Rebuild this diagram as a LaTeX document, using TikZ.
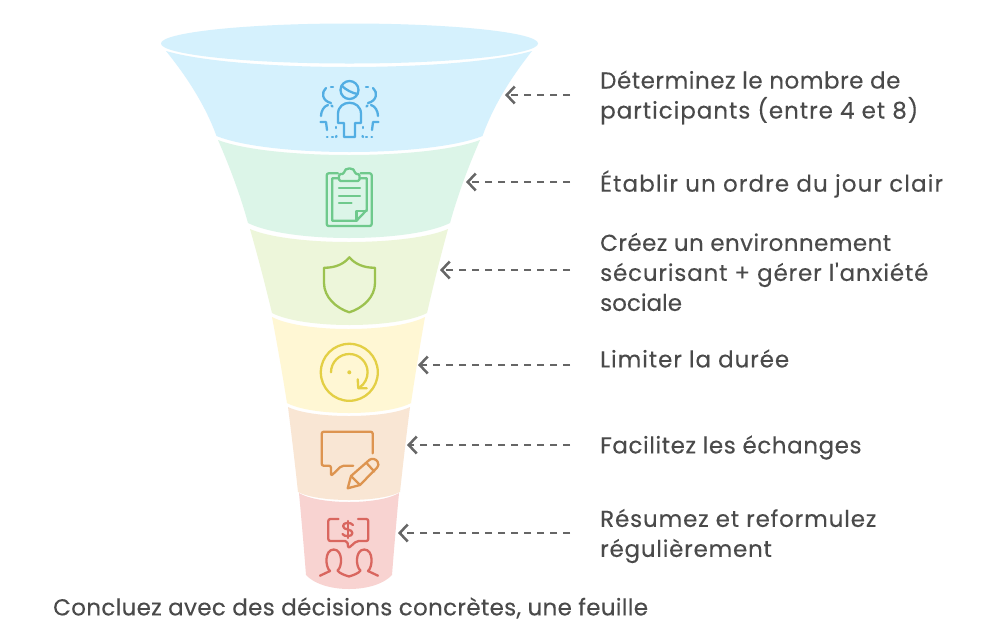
\documentclass[tikz,border=0pt]{standalone}
\usepackage{fontspec}
\setmainfont{Poppins}[Ligatures=TeXOff,FakeBold=0.25]
\usetikzlibrary{arrows.meta}
\definecolor{cblue}{HTML}{D5F1FD}\definecolor{cgreen}{HTML}{DCF5E8}\definecolor{clime}{HTML}{EDF6DA}
\definecolor{cyel}{HTML}{FFF7D4}\definecolor{cpeach}{HTML}{F9E6D4}\definecolor{cpink}{HTML}{F8D3D1}
\definecolor{iblue}{HTML}{52AEE3}\definecolor{igreen}{HTML}{6FC98C}\definecolor{ilime}{HTML}{9CC24F}
\definecolor{iyel}{HTML}{E3CF45}\definecolor{iorange}{HTML}{DD9450}\definecolor{ired}{HTML}{D9665F}
\definecolor{ink}{HTML}{4A4A4A}\definecolor{arrowgray}{HTML}{666666}
\tikzset{
 icon/.style={line width=2.3pt,line cap=round,line join=round},
 pointer/.style={draw=arrowgray,line width=2.3pt,dash pattern=on 7pt off 6pt,-{Straight Barb[length=8pt,width=17pt,line width=2.5pt]}},
 label/.style={anchor=west,align=left,text=ink,inner sep=0pt,font=\fontsize{23}{30}\selectfont},
}
\newcommand{\ls}[2]{{\addfontfeature{LetterSpace=#1}#2}}
\newcommand{\bowa}{0.36}\newcommand{\bowb}{0.70}
\newcommand{\band}[9]{% colour, tl x, tr x, top y, top sag, bl x, br x, bot y, bot sag
 \fill[#1] (#2,#4) .. controls ({#2+0.2*(#3-#2)},{#4+1.333*#5}) and ({#2+0.8*(#3-#2)},{#4+1.333*#5}) .. (#3,#4)
  .. controls ({#3-\bowa*(#3-#7)},{#4+0.33*(#8-#4)}) and ({#3-\bowb*(#3-#7)},{#4+0.67*(#8-#4)}) .. (#7,#8)
  .. controls ({#7-0.2*(#7-#6)},{#8+1.333*#9}) and ({#6+0.2*(#7-#6)},{#8+1.333*#9}) .. (#6,#8)
  .. controls ({#2+\bowb*(#6-#2)},{#4+0.67*(#8-#4)}) and ({#2+\bowa*(#6-#2)},{#4+0.33*(#8-#4)}) .. (#2,#4) -- cycle;}
\begin{document}
\begin{tikzpicture}[x=1pt,y=-1pt]
\useasboundingbox (0,0) rectangle (1000,625);
\fill[white] (0,0) rectangle (1000,625);
% funnel
\renewcommand{\bowa}{0.45}\renewcommand{\bowb}{0.8}
\band{cblue}{166}{532}{51}{16}{216.5}{482.5}{136}{16}
\renewcommand{\bowa}{0.4}\renewcommand{\bowb}{0.75}
\band{cgreen}{218}{480}{140}{15}{248}{450}{223}{15}
\renewcommand{\bowa}{0.36}\renewcommand{\bowb}{0.70}
\band{clime}{250}{448}{229}{13}{272}{427}{313}{12}
\band{cyel}{272}{425}{317}{12}{287}{411}{403}{10}
\band{cpeach}{288}{410}{407}{9}{298}{400}{492}{8}
\band{cpink}{299}{399}{493}{9}{306}{392}{575}{14}
\fill[cblue] (349.5,43.5) ellipse[x radius=188.5pt,y radius=20pt];
% icon 1: people
\begin{scope}[icon,draw=iblue]
 \draw (349.5,90) circle[radius=9pt];
 \draw (341.5,85.5) .. controls (346,90) and (352,93) .. (357.5,94);
 \draw (338,123) -- (338,114) .. controls (338,99) and (361,99) .. (361,114) -- (361,123) -- (355,123) -- (355,137) -- (344,137) -- (344,123) -- cycle;
 \foreach \t in {0,1}{
 \begin{scope}[shift={(\t*699,0)},xscale={1-2*\t}]
  \draw (331,87) -- (333,87);
  \draw (326,88) .. controls (321,92) and (322,101) .. (331,103);
  \draw (331.5,105.5) -- (332.5,106.5);
  \draw (328,105) .. controls (324,106) and (321,111) .. (321,116);
  \draw (320.5,122) -- (326,122) -- (327,130);
  \draw (327,137) -- (327.5,137); \draw (332,137) -- (333,137); \draw (336,137) -- (336.5,136);
  \draw (336,127) -- (336,128);
 \end{scope}}
\end{scope}
% icon 2: clipboard
\begin{scope}[icon,draw=igreen]
 \draw[rounded corners=2pt] (338,173.3) -- (326.7,173.3) -- (326.7,226) -- (371.7,226) -- (371.7,173.3) -- (360.5,173.3);
 \draw (338,178.3) -- (332.3,178.3) -- (332.3,220.7) -- (356.5,220.7) -- (366.7,210) -- (366.7,178.3) -- (360.5,178.3);
 \draw[rounded corners=1.5pt] (339,181) -- (339,174) -- (344,174) .. controls (344,167) and (355,167) .. (355,174) -- (359.5,174) -- (359.5,181) -- cycle;
 \draw (339,188.3) -- (360,188.3) (339,195.7) -- (360,195.7) (339,203.3) -- (351.5,203.3);
 \draw (356.5,220.7) -- (356.5,211) -- (366.7,211);
\end{scope}
% icon 3: shield
\draw[icon,draw=ilime] (349.3,257.3) .. controls (344,264) and (335,268) .. (324,267.7) -- (324,283) .. controls (324,297) and (336,308) .. (349.3,312.3) .. controls (363,308) and (375,297) .. (375,283) -- (375,267.7) .. controls (364,268) and (355,264) .. (349.3,257.3) -- cycle;
% icon 4: clock
\begin{scope}[icon,draw=iyel]
 \draw (349.3,372.3) circle[radius=28.5pt];
 \draw (331,372.3) arc[start angle=180,end angle=-55,radius=18.3pt];
 \draw (357.7,379.3) -- (358.3,388.3) -- (366.7,388.3);
 \fill[iyel] (349.3,372.3) circle[radius=2pt];
\end{scope}
% icon 5: speech + pencil
\begin{scope}[icon,draw=iorange]
 \draw[rounded corners=2pt] (353.3,465.7) -- (341.7,465.7) -- (331,476) -- (331,465.7) -- (321.7,465.7) -- (321.7,431.7) -- (372.7,431.7) -- (372.7,453.3);
 \draw (347.7,488.3) -- (351,476) -- (369.5,459.8) .. controls (372,458) and (376,459) .. (377.5,461.5) .. controls (379,464) and (378.5,466) .. (377.3,467.3) -- (360,485) -- cycle;
 \draw (351,476) -- (360,485);
 \draw (366.5,463) -- (374.3,471.5);
\end{scope}
% icon 6: speech + people
\begin{scope}[icon,draw=ired]
 \draw[rounded corners=2pt] (338.5,519) -- (328.3,519) -- (328.3,541) -- (347.3,541) -- (348.3,548.3) -- (356.7,541) -- (368.3,541) -- (368.3,519) -- (358,519);
 \draw (353,525) .. controls (351,522) and (343,522) .. (343,526) .. controls (343,530.5) and (352.5,528.5) .. (352.5,533) .. controls (352.5,537) and (344,537) .. (342.5,534);
 \draw (347.7,521) -- (347.7,538);
 \draw (320,575.7) -- (330,571) .. controls (325,567) and (324.5,549.5) .. (333.7,549.5) .. controls (343,549.5) and (342.5,567) .. (337.5,570.5) .. controls (339,573) and (344,575) .. (349,576.5) .. controls (354,575) and (359,573) .. (360.5,570.5) .. controls (355.5,567) and (355,549.5) .. (364.3,549.5) .. controls (373.5,549.5) and (373,567) .. (368,571) -- (378,575.7);
\end{scope}
% labels
\node[label] (t1) at (600,97.5) {\ls{2.3}{Déterminez le nombre de}\\\ls{4.2}{participants (entre 4 et 8)}};
\node[label] (t2) at (600,184) {\ls{4.8}{Établir un ordre du jour clair}};
\node[label] (t3) at (600,272) {\ls{1.9}{Créez un environnement}\\\ls{3.6}{sécurisant + gérer l'anxiété}\\sociale};
\node[label] (t4) at (600,358.5) {\ls{4}{Limiter la durée}};
\node[label] (t5) at (600,447.5) {\ls{2.5}{Facilitez les échanges}};
\node[label] (t6) at (600,536) {\ls{3.7}{Résumez et reformulez}\\\ls{3.3}{régulièrement}};
\node[label] (t7) at (53,608) {\ls{1.4}{Concluez avec des décisions concrètes, une feuille}};
% connectors
\coordinate (s1) at (570,95);\coordinate (e1) at (505,95);
\coordinate (s2) at (570,182);\coordinate (e2) at (466,182);
\coordinate (s3) at (570,270);\coordinate (e3) at (440,270);
\coordinate (s4) at (570,365);\coordinate (e4) at (418,365);
\coordinate (s5) at (570,445);\coordinate (e5) at (407,445);
\coordinate (s6) at (570,533);\coordinate (e6) at (398,533);
\foreach \i in {1,...,6}{\draw[pointer] (s\i) -- (e\i);}
\end{tikzpicture}
\end{document}
